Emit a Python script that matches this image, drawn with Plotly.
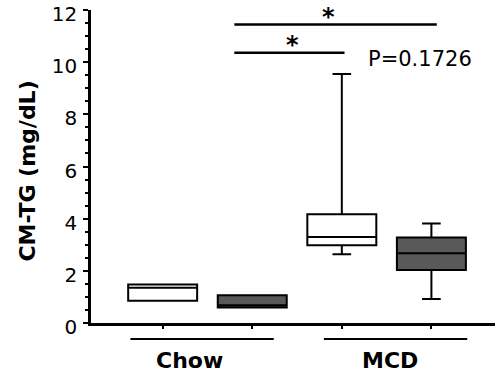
import plotly.graph_objects as go

# Data
positions = [0, 1, 2, 3]
fills = ["#ffffff", "#595959", "#ffffff", "#595959"]
q1 = [0.85, 0.59, 2.98, 2.03]
median = [1.35, 0.68, 3.30, 2.67]
q3 = [1.48, 1.06, 4.17, 3.28]
lowerfence = [0.85, 0.59, 2.64, 0.92]
upperfence = [1.48, 1.06, 9.55, 3.81]

groups = ["Chow", "MCD"]
group_line_x0 = [-0.36, 1.80]
group_line_x1 = [1.24, 3.40]
group_label_x = [0.30, 2.54]

sig_x0 = [0.80, 0.80]
sig_x1 = [3.06, 2.03]
sig_y = [11.44, 10.36]
star_x = [1.85, 1.45]
p_text = "P=0.1726"
p_x = 2.27
p_y = 10.14

FONT = "DejaVu Sans"

fig = go.Figure()
for i in range(len(positions)):
    fig.add_trace(go.Box(
        x=[positions[i]], q1=[q1[i]], median=[median[i]], q3=[q3[i]],
        lowerfence=[lowerfence[i]], upperfence=[upperfence[i]],
        width=0.77, whiskerwidth=0.27, fillcolor=fills[i],
        line=dict(color="black", width=2), boxpoints=False,
        showlegend=False, hoverinfo="skip",
    ))

shapes = []
annotations = []
for g, x0, x1, lx in zip(groups, group_line_x0, group_line_x1, group_label_x):
    shapes.append(dict(type="line", xref="x", yref="paper", x0=x0, x1=x1,
                       y0=-0.051, y1=-0.051, line=dict(color="black", width=2)))
    annotations.append(dict(text="<b>%s</b>" % g, xref="x", yref="paper", x=lx, y=-0.121,
                            showarrow=False, xanchor="center", yanchor="middle",
                            font=dict(family=FONT, size=22, color="black")))
for x0, x1, y, sx in zip(sig_x0, sig_x1, sig_y, star_x):
    shapes.append(dict(type="line", xref="x", yref="y", x0=x0, x1=x1, y0=y, y1=y,
                       line=dict(color="black", width=2.5)))
    annotations.append(dict(text="<b>*</b>", xref="x", yref="y", x=sx, y=y, yshift=8,
                            showarrow=False, xanchor="center", yanchor="middle",
                            font=dict(family=FONT, size=24, color="black")))
annotations.append(dict(text=p_text, xref="x", yref="y", x=p_x, y=p_y, showarrow=False,
                        xanchor="left", yanchor="middle",
                        font=dict(family=FONT, size=21, color="black")))
annotations.append(dict(text="<b>CM-TG (mg/dL)</b>", xref="paper", yref="paper",
                        x=-0.156, y=0.487, textangle=-90, showarrow=False,
                        xanchor="center", yanchor="middle",
                        font=dict(family=FONT, size=22, color="black")))

fig.update_layout(
    width=496, height=376,
    margin=dict(l=91, r=1, t=10, b=53, autoexpand=False),
    paper_bgcolor="white", plot_bgcolor="white",
    shapes=shapes, annotations=annotations,
    xaxis=dict(range=[-0.80, 3.71], tickmode="array", tickvals=positions,
               ticktext=["", "", "", ""], ticks="outside", ticklen=3, tickwidth=2,
               tickcolor="black", showline=True, linecolor="black", linewidth=2.5,
               showgrid=False, zeroline=False, fixedrange=True, automargin=False),
    yaxis=dict(range=[0, 12], dtick=2, ticks="outside", ticklen=5, tickwidth=2,
               tickcolor="black", showline=True, linecolor="black", linewidth=2.5,
               showgrid=False, zeroline=False, automargin=False,
               tickfont=dict(family=FONT, size=20, color="black"),
               ticklabelstandoff=2, ticklabeloverflow="allow", ticklabelshift=4,
               minor=dict(dtick=0.5, ticks="outside", ticklen=3, tickwidth=2,
                          tickcolor="black", showgrid=False)),
)

fig.write_html("out.html", config={"displayModeBar": False},
               post_script="document.body.style.margin='0';document.body.style.padding='0';document.body.style.overflow='hidden';")
